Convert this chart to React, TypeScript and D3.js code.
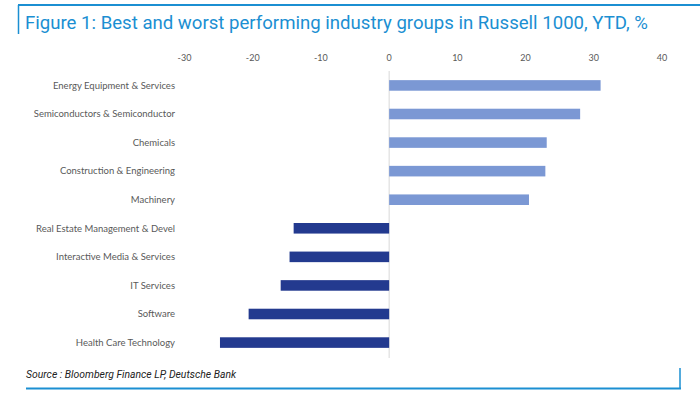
import React from 'react';
import * as d3 from 'd3';

const categories = [
  'Energy Equipment & Services',
  'Semiconductors & Semiconductor',
  'Chemicals',
  'Construction & Engineering',
  'Machinery',
  'Real Estate Management & Devel',
  'Interactive Media & Services',
  'IT Services',
  'Software',
  'Health Care Technology',
];
const ytdReturns = [31.0, 28.0, 23.1, 22.9, 20.5, -14.0, -14.6, -15.9, -20.6, -24.8];
const xTicks = [-30, -20, -10, 0, 10, 20, 30, 40];

const title = 'Figure 1: Best and worst performing industry groups in Russell 1000, YTD, %';
const source = 'Source : Bloomberg Finance LP, Deutsche Bank';

const W = 700;
const H = 394;
const blue = '#1b8fd2';
const posColor = '#7b98d4';
const negColor = '#233a8f';
const textGrey = '#595959';

export default function App() {
  // plot area
  const x = d3.scaleLinear().domain([-30, 40]).range([184.5, 662]);
  const y = d3
    .scaleBand()
    .domain(categories)
    .range([71, 357])
    .paddingInner(0.63)
    .paddingOuter(0.32);

  return (
    <div style={{ position: 'absolute', left: 0, top: 0 }}>
      <svg width={W} height={H} style={{ display: 'block', background: '#fff' }}>
        {/* frame */}
        <line x1={18} x2={W} y1={5} y2={5} stroke={blue} strokeWidth={2} />
        <line x1={18.5} x2={18.5} y1={5} y2={34} stroke={blue} strokeWidth={1.5} />
        <text x={25} y={29} fill={blue} fontFamily="Roboto, sans-serif" fontSize={18.6}>
          {title}
        </text>

        {/* tick labels */}
        {xTicks.map(t => (
          <text
            key={t}
            x={x(t)}
            y={61}
            textAnchor="middle"
            fill={textGrey}
            fontFamily="Lato, sans-serif"
            fontSize={9}
          >
            {t}
          </text>
        ))}

        {/* zero line */}
        <line x1={x(0)} x2={x(0)} y1={71} y2={358} stroke="#d9d9d9" strokeWidth={1} />

        {/* bars */}
        {categories.map((c, i) => {
          const v = ytdReturns[i];
          return (
            <rect
              key={c}
              x={Math.min(x(0), x(v))}
              y={y(c)}
              width={Math.abs(x(v) - x(0))}
              height={y.bandwidth()}
              fill={v >= 0 ? posColor : negColor}
            />
          );
        })}

        {/* category labels */}
        {categories.map(c => (
          <text
            key={c}
            x={175}
            y={(y(c) as number) + y.bandwidth() / 2}
            dy="0.35em"
            textAnchor="end"
            fill={textGrey}
            fontFamily="Lato, sans-serif"
            fontSize={9.5}
          >
            {c}
          </text>
        ))}

        {/* footer */}
        <text
          x={26}
          y={378}
          fill="#222"
          fontFamily="Roboto, sans-serif"
          fontStyle="italic"
          fontSize={10.4}
        >
          {source}
        </text>
        <line x1={680} x2={680} y1={368} y2={389} stroke={blue} strokeWidth={1.5} />
        <line x1={26} x2={681} y1={388.5} y2={388.5} stroke={blue} strokeWidth={2} />
      </svg>
    </div>
  );
}
